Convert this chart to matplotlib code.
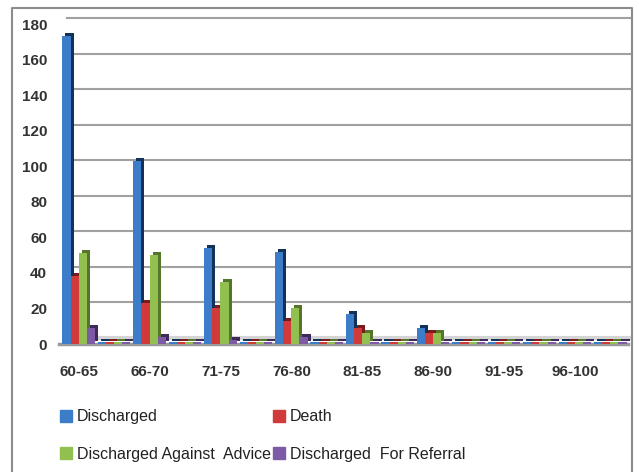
import numpy as np
import matplotlib
matplotlib.use("Agg")
import matplotlib.pyplot as plt
from matplotlib.transforms import ScaledTranslation
from matplotlib.patches import Patch
from matplotlib.lines import Line2D

# Age groups; every other slot is an unlabelled spacer category
age_labels = ["60-65", "", "66-70", "", "71-75", "", "76-80", "",
              "81-85", "", "86-90", "", "91-95", "", "96-100", ""]

discharged = [173, 1, 103, 1, 54, 1, 52, 1, 17, 1, 9, 1, 1, 1, 1, 1]
death = [38, 1, 23, 1, 20, 1, 13, 1, 9, 1, 6, 1, 1, 1, 1, 1]
against_advice = [51, 1, 50, 1, 35, 1, 20, 1, 6, 1, 6, 1, 1, 1, 1, 1]
referral = [9, 1, 4, 1, 2, 1, 4, 1, 1, 1, 1, 1, 1, 1, 1, 1]

series = [
    ("Discharged", discharged, "#3b7dc8", "#12325a"),
    ("Death", death, "#d03a3a", "#7a1c1c"),
    ("Discharged Against  Advice", against_advice, "#92c050", "#55752a"),
    ("Discharged  For Referral", referral, "#7d5aa6", "#3f2a5c"),
]

plt.rcParams["font.family"] = ["Liberation Sans", "DejaVu Sans"]

fig = plt.figure(figsize=(6.39, 4.72), dpi=100)
W, H = 639, 472
ax = fig.add_axes([61 / W, 128 / H, 567 / W, 320 / H])

x = np.arange(len(age_labels))
width = 0.23
depth = ScaledTranslation(3 / 100, 3 / 100, fig.dpi_scale_trans)

# back-wall gridlines, pushed up/right to fake the 3D wall
wall = ScaledTranslation(6 / 100, 6 / 100, fig.dpi_scale_trans)
for yv in range(20, 181, 20):
    ax.plot([-0.5, 15.4], [yv, yv], color="#a0a0a0", lw=1.5,
            transform=ax.transData + wall, zorder=0, clip_on=False)
    # short slanted join from the axis to the wall
    p0 = ax.transData.transform((-0.5, yv))
    p1 = (ax.transData + wall).transform((-0.5, yv))
    fig.add_artist(Line2D([(p0[0] - 2) / W, p1[0] / W], [(p0[1] - 2) / H, p1[1] / H],
                          color="#b0b0b0", lw=1.2))

# floor slab
ax.plot([-0.5, 15.4], [0, 0], color="#d4d4d4", lw=3, transform=ax.transData + wall,
        zorder=1, clip_on=False)
ax.plot([-0.55, 15.5], [0, 0], color="#9a9a9a", lw=2.5, zorder=1, clip_on=False)

for i, (name, vals, face, side) in enumerate(series):
    xs = x - 1.5 * width + i * width
    ax.bar(xs, vals, width, color=side, transform=ax.transData + depth,
           zorder=2 + i * 2, clip_on=False)
    ax.bar(xs, vals, width, color=face, zorder=3 + i * 2, clip_on=False)

ax.set_xlim(-0.5, 15.5)
ax.set_ylim(0, 180)
ax.set_yticks(range(0, 181, 20))
ax.set_xticks(x)
ax.set_xticklabels(age_labels)
ax.tick_params(axis="both", length=0, labelsize=11, labelcolor="#333333")
ax.tick_params(axis="x", pad=15)
ax.tick_params(axis="y", pad=10)
for lbl in ax.get_xticklabels() + ax.get_yticklabels():
    lbl.set_fontweight("bold")
for sp in ax.spines.values():
    sp.set_visible(False)
ax.set_facecolor("none")

# outer frame (bottom edge falls outside the canvas)
fig.add_artist(Line2D([12 / W, 12 / W, 632 / W, 632 / W],
                      [-0.1, 1 - 8 / H, 1 - 8 / H, -0.1],
                      color="#8c8c8c", lw=1.5))

handles = [Patch(color=s[2]) for s in series]
names = [s[0] for s in series]
order = [0, 2, 1, 3]
fig.legend([handles[k] for k in order], [names[k] for k in order],
           loc="upper left", bbox_to_anchor=(46 / W, 1 - 395 / H), ncol=2,
           frameon=False, fontsize=11.5, handlelength=0.75, handleheight=0.75,
           handletextpad=0.3, columnspacing=0.1, labelspacing=1.4,
           labelcolor="#222222")

fig.savefig("out.png", dpi=100)
